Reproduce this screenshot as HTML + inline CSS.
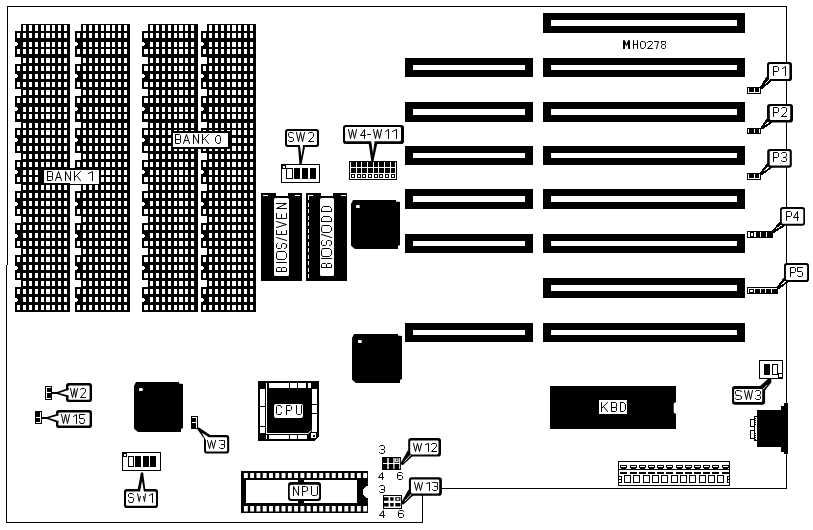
<!DOCTYPE html>
<html><head><meta charset="utf-8"><title>MH0278</title>
<style>html,body{margin:0;padding:0;background:#fff;overflow:hidden}svg{display:block}</style>
</head><body>
<svg width="813" height="530" viewBox="0 0 813 530" shape-rendering="crispEdges" font-family="Liberation Sans, sans-serif">
<rect width="813" height="530" fill="#fff"/>
<path fill="#000" d="M7 6h780v1h-780zM7 6h1v259h-1zM6 265h1v258h-1zM786 6h1v483h-1zM422 488h365v1h-365zM422 488h1v35h-1zM6 522h417v1h-417zM21 24h49v288h-49zM15 31h6v26h-6zM15 64h6v25h-6zM15 96h6v26h-6zM15 128h6v25h-6zM15 160h6v24h-6zM15 191h6v25h-6zM15 223h6v25h-6zM15 255h6v25h-6zM15 287h6v25h-6z"/>
<path fill="#fff" d="M23 25h3v6h-3zM29 25h3v6h-3zM35 25h3v6h-3zM41 25h3v6h-3zM46 25h4v6h-4zM52 25h3v6h-3zM58 25h3v6h-3zM64 25h3v6h-3zM17 33h3v5h-3zM23 33h3v5h-3zM29 33h3v5h-3zM35 33h3v5h-3zM41 33h3v5h-3zM46 33h4v5h-4zM52 33h3v5h-3zM58 33h3v5h-3zM64 33h3v5h-3zM23 42h3v5h-3zM29 42h3v5h-3zM35 42h3v5h-3zM41 42h3v5h-3zM46 42h4v5h-4zM52 42h3v5h-3zM58 42h3v5h-3zM64 42h3v5h-3zM15 42h2v4h-2zM17 43h1v2h-1zM17 49h3v5h-3zM23 49h3v5h-3zM29 49h3v5h-3zM35 49h3v5h-3zM41 49h3v5h-3zM46 49h4v5h-4zM52 49h3v5h-3zM58 49h3v5h-3zM64 49h3v5h-3zM23 58h3v5h-3zM29 58h3v5h-3zM35 58h3v5h-3zM41 58h3v5h-3zM46 58h4v5h-4zM52 58h3v5h-3zM58 58h3v5h-3zM64 58h3v5h-3zM17 66h3v5h-3zM23 66h3v5h-3zM29 66h3v5h-3zM35 66h3v5h-3zM41 66h3v5h-3zM46 66h4v5h-4zM52 66h3v5h-3zM58 66h3v5h-3zM64 66h3v5h-3zM23 74h3v5h-3zM29 74h3v5h-3zM35 74h3v5h-3zM41 74h3v5h-3zM46 74h4v5h-4zM52 74h3v5h-3zM58 74h3v5h-3zM64 74h3v5h-3zM15 74h2v4h-2zM17 75h1v2h-1zM17 82h3v5h-3zM23 82h3v5h-3zM29 82h3v5h-3zM35 82h3v5h-3zM41 82h3v5h-3zM46 82h4v5h-4zM52 82h3v5h-3zM58 82h3v5h-3zM64 82h3v5h-3zM23 90h3v5h-3zM29 90h3v5h-3zM35 90h3v5h-3zM41 90h3v5h-3zM46 90h4v5h-4zM52 90h3v5h-3zM58 90h3v5h-3zM64 90h3v5h-3zM17 98h3v5h-3zM23 98h3v5h-3zM29 98h3v5h-3zM35 98h3v5h-3zM41 98h3v5h-3zM46 98h4v5h-4zM52 98h3v5h-3zM58 98h3v5h-3zM64 98h3v5h-3zM23 107h3v5h-3zM29 107h3v5h-3zM35 107h3v5h-3zM41 107h3v5h-3zM46 107h4v5h-4zM52 107h3v5h-3zM58 107h3v5h-3zM64 107h3v5h-3zM15 107h2v4h-2zM17 108h1v2h-1zM17 114h3v5h-3zM23 114h3v5h-3zM29 114h3v5h-3zM35 114h3v5h-3zM41 114h3v5h-3zM46 114h4v5h-4zM52 114h3v5h-3zM58 114h3v5h-3zM64 114h3v5h-3zM23 123h3v5h-3zM29 123h3v5h-3zM35 123h3v5h-3zM41 123h3v5h-3zM46 123h4v5h-4zM52 123h3v5h-3zM58 123h3v5h-3zM64 123h3v5h-3zM17 130h3v5h-3zM23 130h3v5h-3zM29 130h3v5h-3zM35 130h3v5h-3zM41 130h3v5h-3zM46 130h4v5h-4zM52 130h3v5h-3zM58 130h3v5h-3zM64 130h3v5h-3zM23 138h3v5h-3zM29 138h3v5h-3zM35 138h3v5h-3zM41 138h3v5h-3zM46 138h4v5h-4zM52 138h3v5h-3zM58 138h3v5h-3zM64 138h3v5h-3zM15 138h2v4h-2zM17 139h1v2h-1zM17 146h3v5h-3zM23 146h3v5h-3zM29 146h3v5h-3zM35 146h3v5h-3zM41 146h3v5h-3zM46 146h4v5h-4zM52 146h3v5h-3zM58 146h3v5h-3zM64 146h3v5h-3zM23 154h3v5h-3zM29 154h3v5h-3zM35 154h3v5h-3zM41 154h3v5h-3zM46 154h4v5h-4zM52 154h3v5h-3zM58 154h3v5h-3zM64 154h3v5h-3zM17 162h3v5h-3zM23 162h3v5h-3zM29 162h3v5h-3zM35 162h3v5h-3zM41 162h3v5h-3zM46 162h4v5h-4zM52 162h3v5h-3zM58 162h3v5h-3zM64 162h3v5h-3zM23 170h3v5h-3zM29 170h3v5h-3zM35 170h3v5h-3zM41 170h3v5h-3zM46 170h4v5h-4zM52 170h3v5h-3zM58 170h3v5h-3zM64 170h3v5h-3zM15 170h2v4h-2zM17 171h1v2h-1zM17 177h3v5h-3zM23 177h3v5h-3zM29 177h3v5h-3zM35 177h3v5h-3zM41 177h3v5h-3zM46 177h4v5h-4zM52 177h3v5h-3zM58 177h3v5h-3zM64 177h3v5h-3zM23 185h3v5h-3zM29 185h3v5h-3zM35 185h3v5h-3zM41 185h3v5h-3zM46 185h4v5h-4zM52 185h3v5h-3zM58 185h3v5h-3zM64 185h3v5h-3zM17 193h3v5h-3zM23 193h3v5h-3zM29 193h3v5h-3zM35 193h3v5h-3zM41 193h3v5h-3zM46 193h4v5h-4zM52 193h3v5h-3zM58 193h3v5h-3zM64 193h3v5h-3zM23 201h3v5h-3zM29 201h3v5h-3zM35 201h3v5h-3zM41 201h3v5h-3zM46 201h4v5h-4zM52 201h3v5h-3zM58 201h3v5h-3zM64 201h3v5h-3zM15 202h2v4h-2zM17 203h1v2h-1zM17 209h3v5h-3zM23 209h3v5h-3zM29 209h3v5h-3zM35 209h3v5h-3zM41 209h3v5h-3zM46 209h4v5h-4zM52 209h3v5h-3zM58 209h3v5h-3zM64 209h3v5h-3zM23 217h3v5h-3zM29 217h3v5h-3zM35 217h3v5h-3zM41 217h3v5h-3zM46 217h4v5h-4zM52 217h3v5h-3zM58 217h3v5h-3zM64 217h3v5h-3zM17 225h3v5h-3zM23 225h3v5h-3zM29 225h3v5h-3zM35 225h3v5h-3zM41 225h3v5h-3zM46 225h4v5h-4zM52 225h3v5h-3zM58 225h3v5h-3zM64 225h3v5h-3zM23 233h3v5h-3zM29 233h3v5h-3zM35 233h3v5h-3zM41 233h3v5h-3zM46 233h4v5h-4zM52 233h3v5h-3zM58 233h3v5h-3zM64 233h3v5h-3zM15 234h2v4h-2zM17 235h1v2h-1zM17 241h3v5h-3zM23 241h3v5h-3zM29 241h3v5h-3zM35 241h3v5h-3zM41 241h3v5h-3zM46 241h4v5h-4zM52 241h3v5h-3zM58 241h3v5h-3zM64 241h3v5h-3zM23 249h3v5h-3zM29 249h3v5h-3zM35 249h3v5h-3zM41 249h3v5h-3zM46 249h4v5h-4zM52 249h3v5h-3zM58 249h3v5h-3zM64 249h3v5h-3zM17 257h3v5h-3zM23 257h3v5h-3zM29 257h3v5h-3zM35 257h3v5h-3zM41 257h3v5h-3zM46 257h4v5h-4zM52 257h3v5h-3zM58 257h3v5h-3zM64 257h3v5h-3zM23 265h3v5h-3zM29 265h3v5h-3zM35 265h3v5h-3zM41 265h3v5h-3zM46 265h4v5h-4zM52 265h3v5h-3zM58 265h3v5h-3zM64 265h3v5h-3zM15 266h2v4h-2zM17 267h1v2h-1zM17 273h3v5h-3zM23 273h3v5h-3zM29 273h3v5h-3zM35 273h3v5h-3zM41 273h3v5h-3zM46 273h4v5h-4zM52 273h3v5h-3zM58 273h3v5h-3zM64 273h3v5h-3zM23 281h3v5h-3zM29 281h3v5h-3zM35 281h3v5h-3zM41 281h3v5h-3zM46 281h4v5h-4zM52 281h3v5h-3zM58 281h3v5h-3zM64 281h3v5h-3zM17 289h3v5h-3zM23 289h3v5h-3zM29 289h3v5h-3zM35 289h3v5h-3zM41 289h3v5h-3zM46 289h4v5h-4zM52 289h3v5h-3zM58 289h3v5h-3zM64 289h3v5h-3zM23 297h3v5h-3zM29 297h3v5h-3zM35 297h3v5h-3zM41 297h3v5h-3zM46 297h4v5h-4zM52 297h3v5h-3zM58 297h3v5h-3zM64 297h3v5h-3zM15 298h2v4h-2zM17 299h1v2h-1zM17 305h3v5h-3zM23 305h3v5h-3zM29 305h3v5h-3zM35 305h3v5h-3zM41 305h3v5h-3zM46 305h4v5h-4zM52 305h3v5h-3zM58 305h3v5h-3zM64 305h3v5h-3z"/>
<path fill="#000" d="M81 24h49v288h-49zM75 31h6v26h-6zM75 64h6v25h-6zM75 96h6v26h-6zM75 128h6v25h-6zM75 160h6v24h-6zM75 191h6v25h-6zM75 223h6v25h-6zM75 255h6v25h-6zM75 287h6v25h-6z"/>
<path fill="#fff" d="M83 25h3v6h-3zM89 25h3v6h-3zM95 25h3v6h-3zM101 25h3v6h-3zM106 25h4v6h-4zM112 25h3v6h-3zM118 25h3v6h-3zM124 25h3v6h-3zM77 33h3v5h-3zM83 33h3v5h-3zM89 33h3v5h-3zM95 33h3v5h-3zM101 33h3v5h-3zM106 33h4v5h-4zM112 33h3v5h-3zM118 33h3v5h-3zM124 33h3v5h-3zM83 42h3v5h-3zM89 42h3v5h-3zM95 42h3v5h-3zM101 42h3v5h-3zM106 42h4v5h-4zM112 42h3v5h-3zM118 42h3v5h-3zM124 42h3v5h-3zM75 42h2v4h-2zM77 43h1v2h-1zM77 49h3v5h-3zM83 49h3v5h-3zM89 49h3v5h-3zM95 49h3v5h-3zM101 49h3v5h-3zM106 49h4v5h-4zM112 49h3v5h-3zM118 49h3v5h-3zM124 49h3v5h-3zM83 58h3v5h-3zM89 58h3v5h-3zM95 58h3v5h-3zM101 58h3v5h-3zM106 58h4v5h-4zM112 58h3v5h-3zM118 58h3v5h-3zM124 58h3v5h-3zM77 66h3v5h-3zM83 66h3v5h-3zM89 66h3v5h-3zM95 66h3v5h-3zM101 66h3v5h-3zM106 66h4v5h-4zM112 66h3v5h-3zM118 66h3v5h-3zM124 66h3v5h-3zM83 74h3v5h-3zM89 74h3v5h-3zM95 74h3v5h-3zM101 74h3v5h-3zM106 74h4v5h-4zM112 74h3v5h-3zM118 74h3v5h-3zM124 74h3v5h-3zM75 74h2v4h-2zM77 75h1v2h-1zM77 82h3v5h-3zM83 82h3v5h-3zM89 82h3v5h-3zM95 82h3v5h-3zM101 82h3v5h-3zM106 82h4v5h-4zM112 82h3v5h-3zM118 82h3v5h-3zM124 82h3v5h-3zM83 90h3v5h-3zM89 90h3v5h-3zM95 90h3v5h-3zM101 90h3v5h-3zM106 90h4v5h-4zM112 90h3v5h-3zM118 90h3v5h-3zM124 90h3v5h-3zM77 98h3v5h-3zM83 98h3v5h-3zM89 98h3v5h-3zM95 98h3v5h-3zM101 98h3v5h-3zM106 98h4v5h-4zM112 98h3v5h-3zM118 98h3v5h-3zM124 98h3v5h-3zM83 107h3v5h-3zM89 107h3v5h-3zM95 107h3v5h-3zM101 107h3v5h-3zM106 107h4v5h-4zM112 107h3v5h-3zM118 107h3v5h-3zM124 107h3v5h-3zM75 107h2v4h-2zM77 108h1v2h-1zM77 114h3v5h-3zM83 114h3v5h-3zM89 114h3v5h-3zM95 114h3v5h-3zM101 114h3v5h-3zM106 114h4v5h-4zM112 114h3v5h-3zM118 114h3v5h-3zM124 114h3v5h-3zM83 123h3v5h-3zM89 123h3v5h-3zM95 123h3v5h-3zM101 123h3v5h-3zM106 123h4v5h-4zM112 123h3v5h-3zM118 123h3v5h-3zM124 123h3v5h-3zM77 130h3v5h-3zM83 130h3v5h-3zM89 130h3v5h-3zM95 130h3v5h-3zM101 130h3v5h-3zM106 130h4v5h-4zM112 130h3v5h-3zM118 130h3v5h-3zM124 130h3v5h-3zM83 138h3v5h-3zM89 138h3v5h-3zM95 138h3v5h-3zM101 138h3v5h-3zM106 138h4v5h-4zM112 138h3v5h-3zM118 138h3v5h-3zM124 138h3v5h-3zM75 138h2v4h-2zM77 139h1v2h-1zM77 146h3v5h-3zM83 146h3v5h-3zM89 146h3v5h-3zM95 146h3v5h-3zM101 146h3v5h-3zM106 146h4v5h-4zM112 146h3v5h-3zM118 146h3v5h-3zM124 146h3v5h-3zM83 154h3v5h-3zM89 154h3v5h-3zM95 154h3v5h-3zM101 154h3v5h-3zM106 154h4v5h-4zM112 154h3v5h-3zM118 154h3v5h-3zM124 154h3v5h-3zM77 162h3v5h-3zM83 162h3v5h-3zM89 162h3v5h-3zM95 162h3v5h-3zM101 162h3v5h-3zM106 162h4v5h-4zM112 162h3v5h-3zM118 162h3v5h-3zM124 162h3v5h-3zM83 170h3v5h-3zM89 170h3v5h-3zM95 170h3v5h-3zM101 170h3v5h-3zM106 170h4v5h-4zM112 170h3v5h-3zM118 170h3v5h-3zM124 170h3v5h-3zM75 170h2v4h-2zM77 171h1v2h-1zM77 177h3v5h-3zM83 177h3v5h-3zM89 177h3v5h-3zM95 177h3v5h-3zM101 177h3v5h-3zM106 177h4v5h-4zM112 177h3v5h-3zM118 177h3v5h-3zM124 177h3v5h-3zM83 185h3v5h-3zM89 185h3v5h-3zM95 185h3v5h-3zM101 185h3v5h-3zM106 185h4v5h-4zM112 185h3v5h-3zM118 185h3v5h-3zM124 185h3v5h-3zM77 193h3v5h-3zM83 193h3v5h-3zM89 193h3v5h-3zM95 193h3v5h-3zM101 193h3v5h-3zM106 193h4v5h-4zM112 193h3v5h-3zM118 193h3v5h-3zM124 193h3v5h-3zM83 201h3v5h-3zM89 201h3v5h-3zM95 201h3v5h-3zM101 201h3v5h-3zM106 201h4v5h-4zM112 201h3v5h-3zM118 201h3v5h-3zM124 201h3v5h-3zM75 202h2v4h-2zM77 203h1v2h-1zM77 209h3v5h-3zM83 209h3v5h-3zM89 209h3v5h-3zM95 209h3v5h-3zM101 209h3v5h-3zM106 209h4v5h-4zM112 209h3v5h-3zM118 209h3v5h-3zM124 209h3v5h-3zM83 217h3v5h-3zM89 217h3v5h-3zM95 217h3v5h-3zM101 217h3v5h-3zM106 217h4v5h-4zM112 217h3v5h-3zM118 217h3v5h-3zM124 217h3v5h-3zM77 225h3v5h-3zM83 225h3v5h-3zM89 225h3v5h-3zM95 225h3v5h-3zM101 225h3v5h-3zM106 225h4v5h-4zM112 225h3v5h-3zM118 225h3v5h-3zM124 225h3v5h-3zM83 233h3v5h-3zM89 233h3v5h-3zM95 233h3v5h-3zM101 233h3v5h-3zM106 233h4v5h-4zM112 233h3v5h-3zM118 233h3v5h-3zM124 233h3v5h-3zM75 234h2v4h-2zM77 235h1v2h-1zM77 241h3v5h-3zM83 241h3v5h-3zM89 241h3v5h-3zM95 241h3v5h-3zM101 241h3v5h-3zM106 241h4v5h-4zM112 241h3v5h-3zM118 241h3v5h-3zM124 241h3v5h-3zM83 249h3v5h-3zM89 249h3v5h-3zM95 249h3v5h-3zM101 249h3v5h-3zM106 249h4v5h-4zM112 249h3v5h-3zM118 249h3v5h-3zM124 249h3v5h-3zM77 257h3v5h-3zM83 257h3v5h-3zM89 257h3v5h-3zM95 257h3v5h-3zM101 257h3v5h-3zM106 257h4v5h-4zM112 257h3v5h-3zM118 257h3v5h-3zM124 257h3v5h-3zM83 265h3v5h-3zM89 265h3v5h-3zM95 265h3v5h-3zM101 265h3v5h-3zM106 265h4v5h-4zM112 265h3v5h-3zM118 265h3v5h-3zM124 265h3v5h-3zM75 266h2v4h-2zM77 267h1v2h-1zM77 273h3v5h-3zM83 273h3v5h-3zM89 273h3v5h-3zM95 273h3v5h-3zM101 273h3v5h-3zM106 273h4v5h-4zM112 273h3v5h-3zM118 273h3v5h-3zM124 273h3v5h-3zM83 281h3v5h-3zM89 281h3v5h-3zM95 281h3v5h-3zM101 281h3v5h-3zM106 281h4v5h-4zM112 281h3v5h-3zM118 281h3v5h-3zM124 281h3v5h-3zM77 289h3v5h-3zM83 289h3v5h-3zM89 289h3v5h-3zM95 289h3v5h-3zM101 289h3v5h-3zM106 289h4v5h-4zM112 289h3v5h-3zM118 289h3v5h-3zM124 289h3v5h-3zM83 297h3v5h-3zM89 297h3v5h-3zM95 297h3v5h-3zM101 297h3v5h-3zM106 297h4v5h-4zM112 297h3v5h-3zM118 297h3v5h-3zM124 297h3v5h-3zM75 298h2v4h-2zM77 299h1v2h-1zM77 305h3v5h-3zM83 305h3v5h-3zM89 305h3v5h-3zM95 305h3v5h-3zM101 305h3v5h-3zM106 305h4v5h-4zM112 305h3v5h-3zM118 305h3v5h-3zM124 305h3v5h-3z"/>
<path fill="#000" d="M148 24h50v288h-50zM142 31h6v26h-6zM142 64h6v25h-6zM142 96h6v26h-6zM142 128h6v25h-6zM142 160h6v24h-6zM142 191h6v25h-6zM142 223h6v25h-6zM142 255h6v25h-6zM142 287h6v25h-6z"/>
<path fill="#fff" d="M150 25h3v6h-3zM156 25h3v6h-3zM162 25h3v6h-3zM168 25h3v6h-3zM174 25h3v6h-3zM179 25h4v6h-4zM185 25h3v6h-3zM191 25h3v6h-3zM144 33h4v5h-4zM150 33h3v5h-3zM156 33h3v5h-3zM162 33h3v5h-3zM168 33h3v5h-3zM174 33h3v5h-3zM179 33h4v5h-4zM185 33h3v5h-3zM191 33h3v5h-3zM150 42h3v5h-3zM156 42h3v5h-3zM162 42h3v5h-3zM168 42h3v5h-3zM174 42h3v5h-3zM179 42h4v5h-4zM185 42h3v5h-3zM191 42h3v5h-3zM142 42h2v4h-2zM144 43h1v2h-1zM144 49h4v5h-4zM150 49h3v5h-3zM156 49h3v5h-3zM162 49h3v5h-3zM168 49h3v5h-3zM174 49h3v5h-3zM179 49h4v5h-4zM185 49h3v5h-3zM191 49h3v5h-3zM150 58h3v5h-3zM156 58h3v5h-3zM162 58h3v5h-3zM168 58h3v5h-3zM174 58h3v5h-3zM179 58h4v5h-4zM185 58h3v5h-3zM191 58h3v5h-3zM144 66h4v5h-4zM150 66h3v5h-3zM156 66h3v5h-3zM162 66h3v5h-3zM168 66h3v5h-3zM174 66h3v5h-3zM179 66h4v5h-4zM185 66h3v5h-3zM191 66h3v5h-3zM150 74h3v5h-3zM156 74h3v5h-3zM162 74h3v5h-3zM168 74h3v5h-3zM174 74h3v5h-3zM179 74h4v5h-4zM185 74h3v5h-3zM191 74h3v5h-3zM142 74h2v4h-2zM144 75h1v2h-1zM144 82h4v5h-4zM150 82h3v5h-3zM156 82h3v5h-3zM162 82h3v5h-3zM168 82h3v5h-3zM174 82h3v5h-3zM179 82h4v5h-4zM185 82h3v5h-3zM191 82h3v5h-3zM150 90h3v5h-3zM156 90h3v5h-3zM162 90h3v5h-3zM168 90h3v5h-3zM174 90h3v5h-3zM179 90h4v5h-4zM185 90h3v5h-3zM191 90h3v5h-3zM144 98h4v5h-4zM150 98h3v5h-3zM156 98h3v5h-3zM162 98h3v5h-3zM168 98h3v5h-3zM174 98h3v5h-3zM179 98h4v5h-4zM185 98h3v5h-3zM191 98h3v5h-3zM150 107h3v5h-3zM156 107h3v5h-3zM162 107h3v5h-3zM168 107h3v5h-3zM174 107h3v5h-3zM179 107h4v5h-4zM185 107h3v5h-3zM191 107h3v5h-3zM142 107h2v4h-2zM144 108h1v2h-1zM144 114h4v5h-4zM150 114h3v5h-3zM156 114h3v5h-3zM162 114h3v5h-3zM168 114h3v5h-3zM174 114h3v5h-3zM179 114h4v5h-4zM185 114h3v5h-3zM191 114h3v5h-3zM150 123h3v5h-3zM156 123h3v5h-3zM162 123h3v5h-3zM168 123h3v5h-3zM174 123h3v5h-3zM179 123h4v5h-4zM185 123h3v5h-3zM191 123h3v5h-3zM144 130h4v5h-4zM150 130h3v5h-3zM156 130h3v5h-3zM162 130h3v5h-3zM168 130h3v5h-3zM174 130h3v5h-3zM179 130h4v5h-4zM185 130h3v5h-3zM191 130h3v5h-3zM150 138h3v5h-3zM156 138h3v5h-3zM162 138h3v5h-3zM168 138h3v5h-3zM174 138h3v5h-3zM179 138h4v5h-4zM185 138h3v5h-3zM191 138h3v5h-3zM142 138h2v4h-2zM144 139h1v2h-1zM144 146h4v5h-4zM150 146h3v5h-3zM156 146h3v5h-3zM162 146h3v5h-3zM168 146h3v5h-3zM174 146h3v5h-3zM179 146h4v5h-4zM185 146h3v5h-3zM191 146h3v5h-3zM150 154h3v5h-3zM156 154h3v5h-3zM162 154h3v5h-3zM168 154h3v5h-3zM174 154h3v5h-3zM179 154h4v5h-4zM185 154h3v5h-3zM191 154h3v5h-3zM144 162h4v5h-4zM150 162h3v5h-3zM156 162h3v5h-3zM162 162h3v5h-3zM168 162h3v5h-3zM174 162h3v5h-3zM179 162h4v5h-4zM185 162h3v5h-3zM191 162h3v5h-3zM150 170h3v5h-3zM156 170h3v5h-3zM162 170h3v5h-3zM168 170h3v5h-3zM174 170h3v5h-3zM179 170h4v5h-4zM185 170h3v5h-3zM191 170h3v5h-3zM142 170h2v4h-2zM144 171h1v2h-1zM144 177h4v5h-4zM150 177h3v5h-3zM156 177h3v5h-3zM162 177h3v5h-3zM168 177h3v5h-3zM174 177h3v5h-3zM179 177h4v5h-4zM185 177h3v5h-3zM191 177h3v5h-3zM150 185h3v5h-3zM156 185h3v5h-3zM162 185h3v5h-3zM168 185h3v5h-3zM174 185h3v5h-3zM179 185h4v5h-4zM185 185h3v5h-3zM191 185h3v5h-3zM144 193h4v5h-4zM150 193h3v5h-3zM156 193h3v5h-3zM162 193h3v5h-3zM168 193h3v5h-3zM174 193h3v5h-3zM179 193h4v5h-4zM185 193h3v5h-3zM191 193h3v5h-3zM150 201h3v5h-3zM156 201h3v5h-3zM162 201h3v5h-3zM168 201h3v5h-3zM174 201h3v5h-3zM179 201h4v5h-4zM185 201h3v5h-3zM191 201h3v5h-3zM142 202h2v4h-2zM144 203h1v2h-1zM144 209h4v5h-4zM150 209h3v5h-3zM156 209h3v5h-3zM162 209h3v5h-3zM168 209h3v5h-3zM174 209h3v5h-3zM179 209h4v5h-4zM185 209h3v5h-3zM191 209h3v5h-3zM150 217h3v5h-3zM156 217h3v5h-3zM162 217h3v5h-3zM168 217h3v5h-3zM174 217h3v5h-3zM179 217h4v5h-4zM185 217h3v5h-3zM191 217h3v5h-3zM144 225h4v5h-4zM150 225h3v5h-3zM156 225h3v5h-3zM162 225h3v5h-3zM168 225h3v5h-3zM174 225h3v5h-3zM179 225h4v5h-4zM185 225h3v5h-3zM191 225h3v5h-3zM150 233h3v5h-3zM156 233h3v5h-3zM162 233h3v5h-3zM168 233h3v5h-3zM174 233h3v5h-3zM179 233h4v5h-4zM185 233h3v5h-3zM191 233h3v5h-3zM142 234h2v4h-2zM144 235h1v2h-1zM144 241h4v5h-4zM150 241h3v5h-3zM156 241h3v5h-3zM162 241h3v5h-3zM168 241h3v5h-3zM174 241h3v5h-3zM179 241h4v5h-4zM185 241h3v5h-3zM191 241h3v5h-3zM150 249h3v5h-3zM156 249h3v5h-3zM162 249h3v5h-3zM168 249h3v5h-3zM174 249h3v5h-3zM179 249h4v5h-4zM185 249h3v5h-3zM191 249h3v5h-3zM144 257h4v5h-4zM150 257h3v5h-3zM156 257h3v5h-3zM162 257h3v5h-3zM168 257h3v5h-3zM174 257h3v5h-3zM179 257h4v5h-4zM185 257h3v5h-3zM191 257h3v5h-3zM150 265h3v5h-3zM156 265h3v5h-3zM162 265h3v5h-3zM168 265h3v5h-3zM174 265h3v5h-3zM179 265h4v5h-4zM185 265h3v5h-3zM191 265h3v5h-3zM142 266h2v4h-2zM144 267h1v2h-1zM144 273h4v5h-4zM150 273h3v5h-3zM156 273h3v5h-3zM162 273h3v5h-3zM168 273h3v5h-3zM174 273h3v5h-3zM179 273h4v5h-4zM185 273h3v5h-3zM191 273h3v5h-3zM150 281h3v5h-3zM156 281h3v5h-3zM162 281h3v5h-3zM168 281h3v5h-3zM174 281h3v5h-3zM179 281h4v5h-4zM185 281h3v5h-3zM191 281h3v5h-3zM144 289h4v5h-4zM150 289h3v5h-3zM156 289h3v5h-3zM162 289h3v5h-3zM168 289h3v5h-3zM174 289h3v5h-3zM179 289h4v5h-4zM185 289h3v5h-3zM191 289h3v5h-3zM150 297h3v5h-3zM156 297h3v5h-3zM162 297h3v5h-3zM168 297h3v5h-3zM174 297h3v5h-3zM179 297h4v5h-4zM185 297h3v5h-3zM191 297h3v5h-3zM142 298h2v4h-2zM144 299h1v2h-1zM144 305h4v5h-4zM150 305h3v5h-3zM156 305h3v5h-3zM162 305h3v5h-3zM168 305h3v5h-3zM174 305h3v5h-3zM179 305h4v5h-4zM185 305h3v5h-3zM191 305h3v5h-3z"/>
<path fill="#000" d="M207 24h49v288h-49zM201 31h6v26h-6zM201 64h6v25h-6zM201 96h6v26h-6zM201 128h6v25h-6zM201 160h6v24h-6zM201 191h6v25h-6zM201 223h6v25h-6zM201 255h6v25h-6zM201 287h6v25h-6z"/>
<path fill="#fff" d="M209 25h3v6h-3zM215 25h3v6h-3zM221 25h3v6h-3zM227 25h3v6h-3zM232 25h4v6h-4zM238 25h3v6h-3zM244 25h3v6h-3zM250 25h3v6h-3zM203 33h3v5h-3zM209 33h3v5h-3zM215 33h3v5h-3zM221 33h3v5h-3zM227 33h3v5h-3zM232 33h4v5h-4zM238 33h3v5h-3zM244 33h3v5h-3zM250 33h3v5h-3zM209 42h3v5h-3zM215 42h3v5h-3zM221 42h3v5h-3zM227 42h3v5h-3zM232 42h4v5h-4zM238 42h3v5h-3zM244 42h3v5h-3zM250 42h3v5h-3zM201 42h2v4h-2zM203 43h1v2h-1zM203 49h3v5h-3zM209 49h3v5h-3zM215 49h3v5h-3zM221 49h3v5h-3zM227 49h3v5h-3zM232 49h4v5h-4zM238 49h3v5h-3zM244 49h3v5h-3zM250 49h3v5h-3zM209 58h3v5h-3zM215 58h3v5h-3zM221 58h3v5h-3zM227 58h3v5h-3zM232 58h4v5h-4zM238 58h3v5h-3zM244 58h3v5h-3zM250 58h3v5h-3zM203 66h3v5h-3zM209 66h3v5h-3zM215 66h3v5h-3zM221 66h3v5h-3zM227 66h3v5h-3zM232 66h4v5h-4zM238 66h3v5h-3zM244 66h3v5h-3zM250 66h3v5h-3zM209 74h3v5h-3zM215 74h3v5h-3zM221 74h3v5h-3zM227 74h3v5h-3zM232 74h4v5h-4zM238 74h3v5h-3zM244 74h3v5h-3zM250 74h3v5h-3zM201 74h2v4h-2zM203 75h1v2h-1zM203 82h3v5h-3zM209 82h3v5h-3zM215 82h3v5h-3zM221 82h3v5h-3zM227 82h3v5h-3zM232 82h4v5h-4zM238 82h3v5h-3zM244 82h3v5h-3zM250 82h3v5h-3zM209 90h3v5h-3zM215 90h3v5h-3zM221 90h3v5h-3zM227 90h3v5h-3zM232 90h4v5h-4zM238 90h3v5h-3zM244 90h3v5h-3zM250 90h3v5h-3zM203 98h3v5h-3zM209 98h3v5h-3zM215 98h3v5h-3zM221 98h3v5h-3zM227 98h3v5h-3zM232 98h4v5h-4zM238 98h3v5h-3zM244 98h3v5h-3zM250 98h3v5h-3zM209 107h3v5h-3zM215 107h3v5h-3zM221 107h3v5h-3zM227 107h3v5h-3zM232 107h4v5h-4zM238 107h3v5h-3zM244 107h3v5h-3zM250 107h3v5h-3zM201 107h2v4h-2zM203 108h1v2h-1zM203 114h3v5h-3zM209 114h3v5h-3zM215 114h3v5h-3zM221 114h3v5h-3zM227 114h3v5h-3zM232 114h4v5h-4zM238 114h3v5h-3zM244 114h3v5h-3zM250 114h3v5h-3zM209 123h3v5h-3zM215 123h3v5h-3zM221 123h3v5h-3zM227 123h3v5h-3zM232 123h4v5h-4zM238 123h3v5h-3zM244 123h3v5h-3zM250 123h3v5h-3zM203 130h3v5h-3zM209 130h3v5h-3zM215 130h3v5h-3zM221 130h3v5h-3zM227 130h3v5h-3zM232 130h4v5h-4zM238 130h3v5h-3zM244 130h3v5h-3zM250 130h3v5h-3zM209 138h3v5h-3zM215 138h3v5h-3zM221 138h3v5h-3zM227 138h3v5h-3zM232 138h4v5h-4zM238 138h3v5h-3zM244 138h3v5h-3zM250 138h3v5h-3zM201 138h2v4h-2zM203 139h1v2h-1zM203 146h3v5h-3zM209 146h3v5h-3zM215 146h3v5h-3zM221 146h3v5h-3zM227 146h3v5h-3zM232 146h4v5h-4zM238 146h3v5h-3zM244 146h3v5h-3zM250 146h3v5h-3zM209 154h3v5h-3zM215 154h3v5h-3zM221 154h3v5h-3zM227 154h3v5h-3zM232 154h4v5h-4zM238 154h3v5h-3zM244 154h3v5h-3zM250 154h3v5h-3zM203 162h3v5h-3zM209 162h3v5h-3zM215 162h3v5h-3zM221 162h3v5h-3zM227 162h3v5h-3zM232 162h4v5h-4zM238 162h3v5h-3zM244 162h3v5h-3zM250 162h3v5h-3zM209 170h3v5h-3zM215 170h3v5h-3zM221 170h3v5h-3zM227 170h3v5h-3zM232 170h4v5h-4zM238 170h3v5h-3zM244 170h3v5h-3zM250 170h3v5h-3zM201 170h2v4h-2zM203 171h1v2h-1zM203 177h3v5h-3zM209 177h3v5h-3zM215 177h3v5h-3zM221 177h3v5h-3zM227 177h3v5h-3zM232 177h4v5h-4zM238 177h3v5h-3zM244 177h3v5h-3zM250 177h3v5h-3zM209 185h3v5h-3zM215 185h3v5h-3zM221 185h3v5h-3zM227 185h3v5h-3zM232 185h4v5h-4zM238 185h3v5h-3zM244 185h3v5h-3zM250 185h3v5h-3zM203 193h3v5h-3zM209 193h3v5h-3zM215 193h3v5h-3zM221 193h3v5h-3zM227 193h3v5h-3zM232 193h4v5h-4zM238 193h3v5h-3zM244 193h3v5h-3zM250 193h3v5h-3zM209 201h3v5h-3zM215 201h3v5h-3zM221 201h3v5h-3zM227 201h3v5h-3zM232 201h4v5h-4zM238 201h3v5h-3zM244 201h3v5h-3zM250 201h3v5h-3zM201 202h2v4h-2zM203 203h1v2h-1zM203 209h3v5h-3zM209 209h3v5h-3zM215 209h3v5h-3zM221 209h3v5h-3zM227 209h3v5h-3zM232 209h4v5h-4zM238 209h3v5h-3zM244 209h3v5h-3zM250 209h3v5h-3zM209 217h3v5h-3zM215 217h3v5h-3zM221 217h3v5h-3zM227 217h3v5h-3zM232 217h4v5h-4zM238 217h3v5h-3zM244 217h3v5h-3zM250 217h3v5h-3zM203 225h3v5h-3zM209 225h3v5h-3zM215 225h3v5h-3zM221 225h3v5h-3zM227 225h3v5h-3zM232 225h4v5h-4zM238 225h3v5h-3zM244 225h3v5h-3zM250 225h3v5h-3zM209 233h3v5h-3zM215 233h3v5h-3zM221 233h3v5h-3zM227 233h3v5h-3zM232 233h4v5h-4zM238 233h3v5h-3zM244 233h3v5h-3zM250 233h3v5h-3zM201 234h2v4h-2zM203 235h1v2h-1zM203 241h3v5h-3zM209 241h3v5h-3zM215 241h3v5h-3zM221 241h3v5h-3zM227 241h3v5h-3zM232 241h4v5h-4zM238 241h3v5h-3zM244 241h3v5h-3zM250 241h3v5h-3zM209 249h3v5h-3zM215 249h3v5h-3zM221 249h3v5h-3zM227 249h3v5h-3zM232 249h4v5h-4zM238 249h3v5h-3zM244 249h3v5h-3zM250 249h3v5h-3zM203 257h3v5h-3zM209 257h3v5h-3zM215 257h3v5h-3zM221 257h3v5h-3zM227 257h3v5h-3zM232 257h4v5h-4zM238 257h3v5h-3zM244 257h3v5h-3zM250 257h3v5h-3zM209 265h3v5h-3zM215 265h3v5h-3zM221 265h3v5h-3zM227 265h3v5h-3zM232 265h4v5h-4zM238 265h3v5h-3zM244 265h3v5h-3zM250 265h3v5h-3zM201 266h2v4h-2zM203 267h1v2h-1zM203 273h3v5h-3zM209 273h3v5h-3zM215 273h3v5h-3zM221 273h3v5h-3zM227 273h3v5h-3zM232 273h4v5h-4zM238 273h3v5h-3zM244 273h3v5h-3zM250 273h3v5h-3zM209 281h3v5h-3zM215 281h3v5h-3zM221 281h3v5h-3zM227 281h3v5h-3zM232 281h4v5h-4zM238 281h3v5h-3zM244 281h3v5h-3zM250 281h3v5h-3zM203 289h3v5h-3zM209 289h3v5h-3zM215 289h3v5h-3zM221 289h3v5h-3zM227 289h3v5h-3zM232 289h4v5h-4zM238 289h3v5h-3zM244 289h3v5h-3zM250 289h3v5h-3zM209 297h3v5h-3zM215 297h3v5h-3zM221 297h3v5h-3zM227 297h3v5h-3zM232 297h4v5h-4zM238 297h3v5h-3zM244 297h3v5h-3zM250 297h3v5h-3zM201 298h2v4h-2zM203 299h1v2h-1zM203 305h3v5h-3zM209 305h3v5h-3zM215 305h3v5h-3zM221 305h3v5h-3zM227 305h3v5h-3zM232 305h4v5h-4zM238 305h3v5h-3zM244 305h3v5h-3zM250 305h3v5h-3z"/>
<rect x="171" y="131" width="60" height="18" rx="2" fill="#000" shape-rendering="geometricPrecision"/>
<path fill="#fff" d="M173 133h55v14h-55z"/>
<polyline points="175.5,134.5 175.5,143.5 179.5,143.5 180.5,142.5 180.5,139.5 179.5,139.5 175.5,139.5" fill="none" stroke="#000" stroke-width="1" stroke-linecap="round" stroke-linejoin="round" shape-rendering="geometricPrecision"/>
<polyline points="179.5,139.5 180.5,138.5 180.5,135.5 179.5,134.5 175.5,134.5" fill="none" stroke="#000" stroke-width="1" stroke-linecap="round" stroke-linejoin="round" shape-rendering="geometricPrecision"/>
<polyline points="183.5,143.5 186.5,134.5 189.5,143.5" fill="none" stroke="#000" stroke-width="1" stroke-linecap="round" stroke-linejoin="round" shape-rendering="geometricPrecision"/>
<polyline points="184.5,140.5 188.5,140.5" fill="none" stroke="#000" stroke-width="1" stroke-linecap="round" stroke-linejoin="round" shape-rendering="geometricPrecision"/>
<polyline points="193.5,143.5 193.5,134.5 198.5,143.5 198.5,134.5" fill="none" stroke="#000" stroke-width="1" stroke-linecap="round" stroke-linejoin="round" shape-rendering="geometricPrecision"/>
<polyline points="202.5,134.5 202.5,143.5" fill="none" stroke="#000" stroke-width="1" stroke-linecap="round" stroke-linejoin="round" shape-rendering="geometricPrecision"/>
<polyline points="208.5,134.5 202.5,140.5" fill="none" stroke="#000" stroke-width="1" stroke-linecap="round" stroke-linejoin="round" shape-rendering="geometricPrecision"/>
<polyline points="204.5,138.5 208.5,143.5" fill="none" stroke="#000" stroke-width="1" stroke-linecap="round" stroke-linejoin="round" shape-rendering="geometricPrecision"/>
<polyline points="217.5,135.5 219.5,135.5 220.5,137.5 220.5,141.5 219.5,143.5 217.5,143.5 215.5,141.5 215.5,137.5 217.5,135.5" fill="none" stroke="#000" stroke-width="1" stroke-linecap="round" stroke-linejoin="round" shape-rendering="geometricPrecision"/>
<path fill="#000" d="M38 168h63v17h-63z"/>
<path fill="#fff" d="M44 170h55v13h-55zM70 183h29v1h-29z"/>
<polyline points="47.5,171.5 47.5,180.5 51.5,180.5 52.5,179.5 52.5,176.5 51.5,176.5 47.5,176.5" fill="none" stroke="#000" stroke-width="1" stroke-linecap="round" stroke-linejoin="round" shape-rendering="geometricPrecision"/>
<polyline points="51.5,176.5 52.5,175.5 52.5,172.5 51.5,171.5 47.5,171.5" fill="none" stroke="#000" stroke-width="1" stroke-linecap="round" stroke-linejoin="round" shape-rendering="geometricPrecision"/>
<polyline points="55.5,180.5 58.5,171.5 61.5,180.5" fill="none" stroke="#000" stroke-width="1" stroke-linecap="round" stroke-linejoin="round" shape-rendering="geometricPrecision"/>
<polyline points="56.5,177.5 60.5,177.5" fill="none" stroke="#000" stroke-width="1" stroke-linecap="round" stroke-linejoin="round" shape-rendering="geometricPrecision"/>
<polyline points="65.5,180.5 65.5,171.5 70.5,180.5 70.5,171.5" fill="none" stroke="#000" stroke-width="1" stroke-linecap="round" stroke-linejoin="round" shape-rendering="geometricPrecision"/>
<polyline points="74.5,171.5 74.5,180.5" fill="none" stroke="#000" stroke-width="1" stroke-linecap="round" stroke-linejoin="round" shape-rendering="geometricPrecision"/>
<polyline points="80.5,171.5 74.5,177.5" fill="none" stroke="#000" stroke-width="1" stroke-linecap="round" stroke-linejoin="round" shape-rendering="geometricPrecision"/>
<polyline points="76.5,175.5 80.5,180.5" fill="none" stroke="#000" stroke-width="1" stroke-linecap="round" stroke-linejoin="round" shape-rendering="geometricPrecision"/>
<polyline points="88.5,173.5 92.5,171.5 92.5,180.5" fill="none" stroke="#000" stroke-width="1" stroke-linecap="round" stroke-linejoin="round" shape-rendering="geometricPrecision"/>
<path fill="#000" d="M543 13h202v20h-202z"/>
<path fill="#fff" d="M551 20h186v6h-186z"/>
<path fill="#000" d="M543 58h202v19h-202z"/>
<path fill="#fff" d="M551 65h186v5h-186z"/>
<path fill="#000" d="M405 58h128v19h-128z"/>
<path fill="#fff" d="M413 65h112v5h-112z"/>
<path fill="#000" d="M543 102h202v20h-202z"/>
<path fill="#fff" d="M551 109h186v6h-186z"/>
<path fill="#000" d="M405 102h128v20h-128z"/>
<path fill="#fff" d="M413 109h112v6h-112z"/>
<path fill="#000" d="M543 146h202v19h-202z"/>
<path fill="#fff" d="M551 153h186v5h-186z"/>
<path fill="#000" d="M405 146h128v19h-128z"/>
<path fill="#fff" d="M413 153h112v5h-112z"/>
<path fill="#000" d="M543 189h202v20h-202z"/>
<path fill="#fff" d="M551 196h186v6h-186z"/>
<path fill="#000" d="M405 189h128v20h-128z"/>
<path fill="#fff" d="M413 196h112v6h-112z"/>
<path fill="#000" d="M543 234h202v19h-202z"/>
<path fill="#fff" d="M551 241h186v5h-186z"/>
<path fill="#000" d="M405 234h128v19h-128z"/>
<path fill="#fff" d="M413 241h112v5h-112z"/>
<path fill="#000" d="M543 278h202v20h-202z"/>
<path fill="#fff" d="M551 285h186v6h-186z"/>
<path fill="#000" d="M543 323h202v19h-202z"/>
<path fill="#fff" d="M551 330h186v5h-186z"/>
<path fill="#000" d="M405 323h128v19h-128z"/>
<path fill="#fff" d="M413 330h112v5h-112z"/>
<polyline points="623.5,48.5 623.5,40.5 626.5,45.5 629.5,40.5 629.5,48.5" fill="none" stroke="#000" stroke-width="1" stroke-linecap="round" stroke-linejoin="round" shape-rendering="geometricPrecision"/>
<polyline points="624.5,48.5 624.5,40.5 626.5,45.5 628.5,40.5 628.5,48.5" fill="none" stroke="#000" stroke-width="1" stroke-linecap="round" stroke-linejoin="round" shape-rendering="geometricPrecision"/>
<polyline points="633.5,40.5 633.5,48.5" fill="none" stroke="#000" stroke-width="1" stroke-linecap="round" stroke-linejoin="round" shape-rendering="geometricPrecision"/>
<polyline points="637.5,40.5 637.5,48.5" fill="none" stroke="#000" stroke-width="1" stroke-linecap="round" stroke-linejoin="round" shape-rendering="geometricPrecision"/>
<polyline points="633.5,44.5 637.5,44.5" fill="none" stroke="#000" stroke-width="1" stroke-linecap="round" stroke-linejoin="round" shape-rendering="geometricPrecision"/>
<polyline points="641.5,41.5 643.5,41.5 645.5,42.5 645.5,46.5 643.5,48.5 641.5,48.5 640.5,46.5 640.5,42.5 641.5,41.5" fill="none" stroke="#000" stroke-width="1" stroke-linecap="round" stroke-linejoin="round" shape-rendering="geometricPrecision"/>
<polyline points="647.5,42.5 648.5,41.5 651.5,41.5 652.5,42.5 652.5,43.5 647.5,48.5 652.5,48.5" fill="none" stroke="#000" stroke-width="1" stroke-linecap="round" stroke-linejoin="round" shape-rendering="geometricPrecision"/>
<polyline points="654.5,41.5 658.5,41.5 656.5,48.5" fill="none" stroke="#000" stroke-width="1" stroke-linecap="round" stroke-linejoin="round" shape-rendering="geometricPrecision"/>
<polyline points="662.5,41.5 664.5,41.5 665.5,41.5 665.5,43.5 664.5,44.5 662.5,44.5 661.5,43.5 661.5,41.5 662.5,41.5" fill="none" stroke="#000" stroke-width="1" stroke-linecap="round" stroke-linejoin="round" shape-rendering="geometricPrecision"/>
<polyline points="662.5,44.5 661.5,45.5 661.5,47.5 662.5,48.5 664.5,48.5 665.5,47.5 665.5,45.5 664.5,44.5" fill="none" stroke="#000" stroke-width="1" stroke-linecap="round" stroke-linejoin="round" shape-rendering="geometricPrecision"/>
<polygon points="760,87 767,76 770,77 772,81 762,89 760,89" fill="#000" stroke="none" stroke-width="0"/>
<polygon points="761,127 767,118 770,119 772,123 763,129 761,129" fill="#000" stroke="none" stroke-width="0"/>
<polygon points="760,173 767,163 770,164 772,168 762,175 760,175" fill="#000" stroke="none" stroke-width="0"/>
<polygon points="772,231 780,221 783,222 785,226 774,233 772,233" fill="#000" stroke="none" stroke-width="0"/>
<polygon points="777,287 784,277 787,278 789,282 779,289 777,289" fill="#000" stroke="none" stroke-width="0"/>
<rect x="767" y="62" width="25" height="19" rx="2.8" fill="#000" shape-rendering="geometricPrecision"/>
<rect x="769" y="64" width="20.4" height="15" rx="1.3" fill="#fff" shape-rendering="geometricPrecision"/>
<polyline points="773.5,75.5 773.5,66.5 777.5,66.5 778.5,67.5 778.5,70.5 777.5,71.5 773.5,71.5" fill="none" stroke="#000" stroke-width="1" stroke-linecap="round" stroke-linejoin="round" shape-rendering="geometricPrecision"/>
<polyline points="782.5,68.5 785.5,66.5 785.5,75.5" fill="none" stroke="#000" stroke-width="1" stroke-linecap="round" stroke-linejoin="round" shape-rendering="geometricPrecision"/>
<rect x="767" y="104" width="26" height="18.6" rx="2.8" fill="#000" shape-rendering="geometricPrecision"/>
<rect x="769.8" y="106" width="20.4" height="14.1" rx="1.3" fill="#fff" shape-rendering="geometricPrecision"/>
<polyline points="773.5,116.5 773.5,107.5 777.5,107.5 778.5,108.5 778.5,111.5 777.5,112.5 773.5,112.5" fill="none" stroke="#000" stroke-width="1" stroke-linecap="round" stroke-linejoin="round" shape-rendering="geometricPrecision"/>
<polyline points="781.5,108.5 782.5,107.5 785.5,107.5 786.5,108.5 786.5,111.5 781.5,116.5 786.5,116.5" fill="none" stroke="#000" stroke-width="1" stroke-linecap="round" stroke-linejoin="round" shape-rendering="geometricPrecision"/>
<rect x="767.2" y="149" width="24.6" height="18.8" rx="2.8" fill="#000" shape-rendering="geometricPrecision"/>
<rect x="769.7" y="151" width="20" height="14.5" rx="1.3" fill="#fff" shape-rendering="geometricPrecision"/>
<polyline points="773.5,161.5 773.5,152.5 777.5,152.5 778.5,153.5 778.5,156.5 777.5,157.5 773.5,157.5" fill="none" stroke="#000" stroke-width="1" stroke-linecap="round" stroke-linejoin="round" shape-rendering="geometricPrecision"/>
<polyline points="781.5,153.5 782.5,152.5 785.5,152.5 786.5,153.5 786.5,155.5 785.5,157.5 783.5,157.5" fill="none" stroke="#000" stroke-width="1" stroke-linecap="round" stroke-linejoin="round" shape-rendering="geometricPrecision"/>
<polyline points="785.5,157.5 786.5,158.5 786.5,160.5 785.5,161.5 782.5,161.5 781.5,160.5" fill="none" stroke="#000" stroke-width="1" stroke-linecap="round" stroke-linejoin="round" shape-rendering="geometricPrecision"/>
<rect x="780" y="207" width="25" height="18.8" rx="2.8" fill="#000" shape-rendering="geometricPrecision"/>
<rect x="781.8" y="208.9" width="21.5" height="14.9" rx="1.3" fill="#fff" shape-rendering="geometricPrecision"/>
<polyline points="786.5,220.5 786.5,211.5 790.5,211.5 791.5,212.5 791.5,215.5 790.5,216.5 786.5,216.5" fill="none" stroke="#000" stroke-width="1" stroke-linecap="round" stroke-linejoin="round" shape-rendering="geometricPrecision"/>
<polyline points="797.5,220.5 797.5,211.5 793.5,217.5 798.5,217.5" fill="none" stroke="#000" stroke-width="1" stroke-linecap="round" stroke-linejoin="round" shape-rendering="geometricPrecision"/>
<rect x="784" y="263" width="25" height="19" rx="2.8" fill="#000" shape-rendering="geometricPrecision"/>
<rect x="785.9" y="264.9" width="21.2" height="15.1" rx="1.3" fill="#fff" shape-rendering="geometricPrecision"/>
<polyline points="790.5,276.5 790.5,267.5 794.5,267.5 795.5,268.5 795.5,271.5 794.5,272.5 790.5,272.5" fill="none" stroke="#000" stroke-width="1" stroke-linecap="round" stroke-linejoin="round" shape-rendering="geometricPrecision"/>
<polyline points="802.5,267.5 797.5,267.5 797.5,271.5 801.5,271.5 802.5,272.5 802.5,275.5 801.5,276.5 798.5,276.5 797.5,275.5" fill="none" stroke="#000" stroke-width="1" stroke-linecap="round" stroke-linejoin="round" shape-rendering="geometricPrecision"/>
<polyline points="764.5,84.5 769.5,79.5" fill="none" stroke="#fff" stroke-width="1" />
<polyline points="765.5,124.5 769.5,121.5" fill="none" stroke="#fff" stroke-width="1" />
<polyline points="764.5,170.5 769.5,166.5" fill="none" stroke="#fff" stroke-width="1" />
<polyline points="776.5,228.5 782.5,224.5" fill="none" stroke="#fff" stroke-width="1" />
<polyline points="781.5,284.5 786.5,280.5" fill="none" stroke="#fff" stroke-width="1" />
<path fill="#000" d="M747 87h14v7h-14z"/>
<path fill="#fff" d="M748 88h1v5h-1zM754 88h1v4h-1zM759 88h1v5h-1zM748 92h12v1h-12z"/>
<path fill="#000" d="M747 173h14v7h-14z"/>
<path fill="#fff" d="M748 174h1v5h-1zM754 174h1v4h-1zM759 174h1v5h-1zM748 178h12v1h-12z"/>
<path fill="#000" d="M747 128h14v6h-14z"/>
<path fill="#fff" d="M748 129h1v4h-1zM754 129h1v4h-1zM759 129h1v4h-1z"/>
<path fill="#000" d="M747 231h26v7h-26z"/>
<path fill="#fff" d="M748 232h2v5h-2zM751 233h2v3h-2zM754 232h2v5h-2zM760 232h1v5h-1zM766 232h1v5h-1z"/>
<path fill="#000" d="M747 287h31v7h-31z"/>
<path fill="#fff" d="M748 288h29v1h-29zM748 288h1v5h-1zM750 290h3v2h-3zM754 289h1v4h-1zM760 289h1v4h-1zM765 289h1v4h-1zM771 289h1v4h-1z"/>
<rect x="285" y="129" width="34" height="18" rx="2.8" fill="#000" shape-rendering="geometricPrecision"/>
<rect x="287" y="131" width="30" height="14" rx="1.3" fill="#fff" shape-rendering="geometricPrecision"/>
<g shape-rendering="geometricPrecision">
<polygon points="298,146 305.2,146 301.6,164 299.4,164" fill="#000" stroke="none" stroke-width="0"/>
<polygon points="299.8,144 303.2,144 301.5,157" fill="#fff" stroke="none" stroke-width="0"/>
</g>
<polyline points="293.5,133.5 292.5,132.5 289.5,132.5 288.5,133.5 288.5,135.5 289.5,137.5 292.5,137.5 293.5,138.5 293.5,140.5 292.5,141.5 289.5,141.5 288.5,140.5" fill="none" stroke="#000" stroke-width="1" stroke-linecap="round" stroke-linejoin="round" shape-rendering="geometricPrecision"/>
<polyline points="296.5,132.5 298.5,141.5 300.5,132.5 302.5,141.5 304.5,132.5" fill="none" stroke="#000" stroke-width="1" stroke-linecap="round" stroke-linejoin="round" shape-rendering="geometricPrecision"/>
<polyline points="308.5,133.5 309.5,132.5 312.5,132.5 313.5,133.5 313.5,136.5 308.5,141.5 313.5,141.5" fill="none" stroke="#000" stroke-width="1" stroke-linecap="round" stroke-linejoin="round" shape-rendering="geometricPrecision"/>
<path fill="#000" d="M281 164h39v19h-39z"/>
<path fill="#fff" d="M282 165h37v17h-37z"/>
<path fill="#000" d="M282 165h4v4h-4z"/>
<path fill="#fff" d="M283 166h2v2h-2z"/>
<path fill="#000" d="M286 168h7v11h-7z"/>
<path fill="#fff" d="M287 169h5v9h-5z"/>
<path fill="#000" d="M294 168h6v11h-6zM302 168h6v11h-6zM310 168h6v11h-6z"/>
<rect x="343" y="125" width="61" height="19" rx="2.8" fill="#000" shape-rendering="geometricPrecision"/>
<rect x="345" y="127" width="56" height="14.2" rx="1.3" fill="#fff" shape-rendering="geometricPrecision"/>
<g shape-rendering="geometricPrecision">
<polygon points="368.6,143 377.4,143 373.5,161 371.3,161" fill="#000" stroke="none" stroke-width="0"/>
<polygon points="371,140 374.8,140 372.9,153" fill="#fff" stroke="none" stroke-width="0"/>
</g>
<polyline points="348.5,129.5 350.5,138.5 352.5,129.5 354.5,138.5 356.5,129.5" fill="none" stroke="#000" stroke-width="1" stroke-linecap="round" stroke-linejoin="round" shape-rendering="geometricPrecision"/>
<polyline points="364.5,138.5 364.5,129.5 360.5,135.5 365.5,135.5" fill="none" stroke="#000" stroke-width="1" stroke-linecap="round" stroke-linejoin="round" shape-rendering="geometricPrecision"/>
<polyline points="367.5,134.5 370.5,134.5" fill="none" stroke="#000" stroke-width="1" stroke-linecap="round" stroke-linejoin="round" shape-rendering="geometricPrecision"/>
<polyline points="373.5,129.5 375.5,138.5 377.5,129.5 379.5,138.5 381.5,129.5" fill="none" stroke="#000" stroke-width="1" stroke-linecap="round" stroke-linejoin="round" shape-rendering="geometricPrecision"/>
<polyline points="385.5,131.5 388.5,129.5 388.5,138.5" fill="none" stroke="#000" stroke-width="1" stroke-linecap="round" stroke-linejoin="round" shape-rendering="geometricPrecision"/>
<polyline points="392.5,131.5 396.5,129.5 396.5,138.5" fill="none" stroke="#000" stroke-width="1" stroke-linecap="round" stroke-linejoin="round" shape-rendering="geometricPrecision"/>
<path fill="#000" d="M349 161h48v19h-48z"/>
<path fill="#fff" d="M350 162h1v17h-1zM356 162h1v17h-1zM361 162h1v17h-1zM367 162h1v17h-1zM373 162h1v17h-1zM378 162h1v17h-1zM384 162h1v17h-1zM390 162h1v17h-1zM395 162h1v17h-1zM350 167h46v1h-46zM350 173h46v1h-46zM350 174h46v5h-46z"/>
<path fill="#000" d="M351 174h4v4h-4z"/>
<path fill="#fff" d="M352 175h2v2h-2z"/>
<path fill="#000" d="M357 174h4v4h-4z"/>
<path fill="#fff" d="M358 175h2v2h-2z"/>
<path fill="#000" d="M362 174h4v4h-4z"/>
<path fill="#fff" d="M363 175h2v2h-2z"/>
<path fill="#000" d="M368 174h4v4h-4z"/>
<path fill="#fff" d="M369 175h2v2h-2z"/>
<path fill="#000" d="M374 174h4v4h-4z"/>
<path fill="#fff" d="M375 175h2v2h-2z"/>
<path fill="#000" d="M379 174h4v4h-4z"/>
<path fill="#fff" d="M380 175h2v2h-2z"/>
<path fill="#000" d="M385 174h4v4h-4z"/>
<path fill="#fff" d="M386 175h2v2h-2z"/>
<path fill="#000" d="M391 174h4v4h-4z"/>
<path fill="#fff" d="M392 175h2v2h-2z"/>
<path fill="#000" d="M261 193h41v88h-41z"/>
<path fill="#fff" d="M276 193h12v3h-12z"/>
<rect x="274" y="198" width="15" height="78" rx="1.5" fill="#fff" shape-rendering="geometricPrecision"/>
<path fill="#fff" d="M263 195h5v1h-5zM295 195h5v1h-5z"/>
<path fill="#000" d="M306 193h41v88h-41z"/>
<path fill="#fff" d="M321 193h12v3h-12z"/>
<rect x="320" y="198" width="14" height="78" rx="1.5" fill="#fff" shape-rendering="geometricPrecision"/>
<path fill="#fff" d="M308 195h5v1h-5zM341 195h5v1h-5zM308 196h1v4h-1zM308 202.5h1v4h-1zM308 209h1v4h-1zM308 215.5h1v4h-1zM308 222h1v4h-1zM308 228.5h1v4h-1zM308 235h1v4h-1zM308 241.5h1v4h-1zM308 248h1v4h-1zM308 254.5h1v4h-1zM308 261h1v4h-1zM308 267.5h1v4h-1zM308 274h1v4h-1z"/>
<polyline points="276.5,271.5 286.5,271.5 286.5,268.5 285.5,267.5 282.5,267.5 281.5,268.5 281.5,271.5" fill="none" stroke="#000" stroke-width="1" stroke-linecap="round" stroke-linejoin="round" shape-rendering="geometricPrecision"/>
<polyline points="281.5,268.5 280.5,267.5 277.5,267.5 276.5,268.5 276.5,271.5" fill="none" stroke="#000" stroke-width="1" stroke-linecap="round" stroke-linejoin="round" shape-rendering="geometricPrecision"/>
<polyline points="276.5,262.5 286.5,262.5" fill="none" stroke="#000" stroke-width="1" stroke-linecap="round" stroke-linejoin="round" shape-rendering="geometricPrecision"/>
<polyline points="276.5,257.5 276.5,253.5 277.5,251.5 284.5,251.5 286.5,253.5 286.5,257.5 284.5,259.5 277.5,259.5 276.5,257.5" fill="none" stroke="#000" stroke-width="1" stroke-linecap="round" stroke-linejoin="round" shape-rendering="geometricPrecision"/>
<polyline points="277.5,243.5 276.5,244.5 276.5,247.5 277.5,248.5 280.5,248.5 281.5,247.5 281.5,244.5 282.5,243.5 284.5,243.5 286.5,244.5 286.5,247.5 284.5,248.5" fill="none" stroke="#000" stroke-width="1" stroke-linecap="round" stroke-linejoin="round" shape-rendering="geometricPrecision"/>
<polyline points="286.5,240.5 276.5,237.5" fill="none" stroke="#000" stroke-width="1" stroke-linecap="round" stroke-linejoin="round" shape-rendering="geometricPrecision"/>
<polyline points="276.5,230.5 276.5,234.5 286.5,234.5 286.5,230.5" fill="none" stroke="#000" stroke-width="1" stroke-linecap="round" stroke-linejoin="round" shape-rendering="geometricPrecision"/>
<polyline points="281.5,234.5 281.5,231.5" fill="none" stroke="#000" stroke-width="1" stroke-linecap="round" stroke-linejoin="round" shape-rendering="geometricPrecision"/>
<polyline points="276.5,227.5 286.5,224.5 276.5,221.5" fill="none" stroke="#000" stroke-width="1" stroke-linecap="round" stroke-linejoin="round" shape-rendering="geometricPrecision"/>
<polyline points="276.5,213.5 276.5,218.5 286.5,218.5 286.5,213.5" fill="none" stroke="#000" stroke-width="1" stroke-linecap="round" stroke-linejoin="round" shape-rendering="geometricPrecision"/>
<polyline points="281.5,218.5 281.5,214.5" fill="none" stroke="#000" stroke-width="1" stroke-linecap="round" stroke-linejoin="round" shape-rendering="geometricPrecision"/>
<polyline points="286.5,208.5 276.5,208.5 286.5,203.5 276.5,203.5" fill="none" stroke="#000" stroke-width="1" stroke-linecap="round" stroke-linejoin="round" shape-rendering="geometricPrecision"/>
<polyline points="321.5,267.5 331.5,267.5 331.5,264.5 330.5,263.5 327.5,263.5 326.5,264.5 326.5,267.5" fill="none" stroke="#000" stroke-width="1" stroke-linecap="round" stroke-linejoin="round" shape-rendering="geometricPrecision"/>
<polyline points="326.5,264.5 325.5,263.5 322.5,263.5 321.5,264.5 321.5,267.5" fill="none" stroke="#000" stroke-width="1" stroke-linecap="round" stroke-linejoin="round" shape-rendering="geometricPrecision"/>
<polyline points="321.5,258.5 331.5,258.5" fill="none" stroke="#000" stroke-width="1" stroke-linecap="round" stroke-linejoin="round" shape-rendering="geometricPrecision"/>
<polyline points="321.5,254.5 321.5,250.5 322.5,248.5 329.5,248.5 331.5,250.5 331.5,254.5 329.5,256.5 322.5,256.5 321.5,254.5" fill="none" stroke="#000" stroke-width="1" stroke-linecap="round" stroke-linejoin="round" shape-rendering="geometricPrecision"/>
<polyline points="322.5,240.5 321.5,241.5 321.5,244.5 322.5,245.5 325.5,245.5 326.5,244.5 326.5,241.5 327.5,240.5 329.5,240.5 331.5,241.5 331.5,244.5 329.5,245.5" fill="none" stroke="#000" stroke-width="1" stroke-linecap="round" stroke-linejoin="round" shape-rendering="geometricPrecision"/>
<polyline points="331.5,237.5 321.5,234.5" fill="none" stroke="#000" stroke-width="1" stroke-linecap="round" stroke-linejoin="round" shape-rendering="geometricPrecision"/>
<polyline points="321.5,230.5 321.5,227.5 322.5,225.5 329.5,225.5 331.5,227.5 331.5,230.5 329.5,232.5 322.5,232.5 321.5,230.5" fill="none" stroke="#000" stroke-width="1" stroke-linecap="round" stroke-linejoin="round" shape-rendering="geometricPrecision"/>
<polyline points="321.5,221.5 331.5,221.5 331.5,218.5 329.5,216.5 323.5,216.5 321.5,218.5 321.5,221.5" fill="none" stroke="#000" stroke-width="1" stroke-linecap="round" stroke-linejoin="round" shape-rendering="geometricPrecision"/>
<polyline points="321.5,211.5 331.5,211.5 331.5,208.5 329.5,206.5 323.5,206.5 321.5,208.5 321.5,211.5" fill="none" stroke="#000" stroke-width="1" stroke-linecap="round" stroke-linejoin="round" shape-rendering="geometricPrecision"/>
<g shape-rendering="geometricPrecision">
<polygon points="353,200 396,200 396,201.5 400,202 400,245 398,246 398,249 355,249 352.5,247 351,245.5 351,204" fill="#000" stroke="none" stroke-width="0"/>
</g>
<rect x="356" y="205" width="3.8" height="3.1" rx="1.2" fill="#fff" shape-rendering="geometricPrecision"/>
<g shape-rendering="geometricPrecision">
<polygon points="354,334 398,334 398,335.5 402,336 402,379 400,380 400,383 356,383 353.5,381 352,379.5 352,338" fill="#000" stroke="none" stroke-width="0"/>
</g>
<rect x="358" y="340" width="3.8" height="3.1" rx="1.2" fill="#fff" shape-rendering="geometricPrecision"/>
<g shape-rendering="geometricPrecision">
<polygon points="136,382 179,382 179,383.5 183,384 183,428 181,429 181,432 138,432 135.5,430 134,428.5 134,386" fill="#000" stroke="none" stroke-width="0"/>
</g>
<rect x="139" y="388" width="3.8" height="3.1" rx="1.2" fill="#fff" shape-rendering="geometricPrecision"/>
<g shape-rendering="geometricPrecision">
<polygon points="196,427.5 199,427.5 211,435.5 206,442 204,442 204,438.5" fill="#000" stroke="none" stroke-width="0"/>
</g>
<rect x="204" y="435" width="25.2" height="18.5" rx="2.8" fill="#000" shape-rendering="geometricPrecision"/>
<rect x="206" y="437.3" width="21.1" height="14.2" rx="1.3" fill="#fff" shape-rendering="geometricPrecision"/>
<g shape-rendering="geometricPrecision">
<polygon points="201.8,432.8 208.8,437.3 206,440.5" fill="#fff" stroke="none" stroke-width="0"/>
</g>
<polyline points="207.5,440.5 209.5,448.5 211.5,440.5 213.5,448.5 215.5,440.5" fill="none" stroke="#000" stroke-width="1" stroke-linecap="round" stroke-linejoin="round" shape-rendering="geometricPrecision"/>
<polyline points="219.5,440.5 220.5,440.5 223.5,440.5 224.5,440.5 224.5,443.5 223.5,444.5 221.5,444.5" fill="none" stroke="#000" stroke-width="1" stroke-linecap="round" stroke-linejoin="round" shape-rendering="geometricPrecision"/>
<polyline points="223.5,444.5 224.5,444.5 224.5,447.5 223.5,448.5 220.5,448.5 219.5,447.5" fill="none" stroke="#000" stroke-width="1" stroke-linecap="round" stroke-linejoin="round" shape-rendering="geometricPrecision"/>
<path fill="#000" d="M191 416h7v13h-7z"/>
<path fill="#fff" d="M196 417h1v11h-1zM192 417h5v1h-5zM192 422h5v1h-5z"/>
<rect x="66" y="383" width="26" height="19" rx="2.8" fill="#000" shape-rendering="geometricPrecision"/>
<rect x="68.4" y="385.5" width="21.2" height="14.3" rx="1.3" fill="#fff" shape-rendering="geometricPrecision"/>
<g shape-rendering="geometricPrecision">
<polygon points="52,392 57,392 68.5,388 68.5,397.5 57,394 52,394" fill="#000" stroke="none" stroke-width="0"/>
<polygon points="59,393 69.5,389.8 69.5,395.7" fill="#fff" stroke="none" stroke-width="0"/>
</g>
<polyline points="70.5,388.5 72.5,397.5 74.5,388.5 75.5,397.5 77.5,388.5" fill="none" stroke="#000" stroke-width="1" stroke-linecap="round" stroke-linejoin="round" shape-rendering="geometricPrecision"/>
<polyline points="80.5,389.5 81.5,388.5 84.5,388.5 85.5,389.5 85.5,391.5 80.5,397.5 85.5,397.5" fill="none" stroke="#000" stroke-width="1" stroke-linecap="round" stroke-linejoin="round" shape-rendering="geometricPrecision"/>
<path fill="#000" d="M45 386h7v14h-7z"/>
<path fill="#fff" d="M46 387h1v12h-1zM46 387h5v1h-5zM46 392h5v1h-5zM46 398h5v1h-5z"/>
<rect x="56" y="410" width="36" height="18" rx="2.8" fill="#000" shape-rendering="geometricPrecision"/>
<rect x="58.3" y="412.5" width="31.3" height="13" rx="1.3" fill="#fff" shape-rendering="geometricPrecision"/>
<g shape-rendering="geometricPrecision">
<polygon points="42,417 47,417 58.3,413.5 58.3,423 47,419 42,419" fill="#000" stroke="none" stroke-width="0"/>
<polygon points="49,418 59.3,415.3 59.3,421.2" fill="#fff" stroke="none" stroke-width="0"/>
</g>
<polyline points="61.5,414.5 63.5,423.5 65.5,414.5 67.5,423.5 69.5,414.5" fill="none" stroke="#000" stroke-width="1" stroke-linecap="round" stroke-linejoin="round" shape-rendering="geometricPrecision"/>
<polyline points="73.5,416.5 76.5,414.5 76.5,423.5" fill="none" stroke="#000" stroke-width="1" stroke-linecap="round" stroke-linejoin="round" shape-rendering="geometricPrecision"/>
<polyline points="84.5,414.5 79.5,414.5 79.5,418.5 83.5,418.5 84.5,419.5 84.5,421.5 83.5,423.5 80.5,423.5 79.5,421.5" fill="none" stroke="#000" stroke-width="1" stroke-linecap="round" stroke-linejoin="round" shape-rendering="geometricPrecision"/>
<path fill="#000" d="M35 411h7v13h-7z"/>
<path fill="#fff" d="M40 412h1v11h-1zM36 417h5v1h-5zM36 422h5v1h-5z"/>
<path fill="#000" d="M122 452h39v19h-39z"/>
<path fill="#fff" d="M123 453h37v17h-37z"/>
<path fill="#000" d="M123 453h4v4h-4z"/>
<path fill="#fff" d="M124 454h2v2h-2z"/>
<path fill="#000" d="M128 456h6v11h-6z"/>
<path fill="#fff" d="M129 457h4v9h-4z"/>
<path fill="#000" d="M135 456h6v11h-6zM143 456h6v11h-6zM150 456h6v11h-6z"/>
<rect x="124" y="489" width="34" height="19" rx="2.8" fill="#000" shape-rendering="geometricPrecision"/>
<rect x="126" y="491.5" width="30" height="14.3" rx="1.3" fill="#fff" shape-rendering="geometricPrecision"/>
<g shape-rendering="geometricPrecision">
<polygon points="137.5,490.5 145.5,490.5 143.1,472.5 140.9,472.5" fill="#000" stroke="none" stroke-width="0"/>
<polygon points="140,492 144,492 142,481" fill="#fff" stroke="none" stroke-width="0"/>
</g>
<polyline points="133.5,494.5 132.5,493.5 129.5,493.5 128.5,494.5 128.5,496.5 129.5,497.5 132.5,497.5 133.5,498.5 133.5,500.5 132.5,502.5 129.5,502.5 128.5,500.5" fill="none" stroke="#000" stroke-width="1" stroke-linecap="round" stroke-linejoin="round" shape-rendering="geometricPrecision"/>
<polyline points="149.5,495.5 152.5,493.5 152.5,502.5" fill="none" stroke="#000" stroke-width="1" stroke-linecap="round" stroke-linejoin="round" shape-rendering="geometricPrecision"/>
<polyline points="137.5,493.5 139.2,501.5 140.5,496" fill="none" stroke="#000" stroke-width="1" shape-rendering="geometricPrecision"/>
<polyline points="143.5,496 144.5,501.5 145.5,493.5" fill="none" stroke="#000" stroke-width="1" shape-rendering="geometricPrecision"/>
<polygon points="258,381 319,381 319,436.3 314.8,441 258,441" fill="#000" stroke="none" stroke-width="0"/>
<path fill="#fff" d="M266 383h45v5h-45zM260 389h5v44h-5zM312 389h5v43h-5zM266 435h41v4h-41z"/>
<path fill="#000" d="M267 383h2v5h-2zM289 383h1v5h-1zM297 383h1v5h-1zM306 383h2v5h-2zM267 435h2v4h-2zM289 435h1v4h-1zM297 435h1v4h-1zM260 406h5v1h-5zM260 426h5v1h-5zM312 404h5v1h-5zM312 413h5v1h-5z"/>
<path fill="#fff" d="M266 388h1v46h-1zM266 433h42v1h-42z"/>
<polyline points="308,433.5 311.5,430.5" fill="none" stroke="#fff" stroke-width="1" shape-rendering="geometricPrecision"/>
<path fill="#fff" d="M311 433h5v5h-5z"/>
<polygon points="313.8,434.6 315.4,436.2 313.8,437.8 312.6,436.2" fill="#000" stroke="none" stroke-width="0"/>
<rect x="274" y="404" width="29" height="14" rx="2" fill="#fff" shape-rendering="geometricPrecision"/>
<polyline points="281.5,407.5 280.5,405.5 277.5,405.5 276.5,406.5 276.5,413.5 277.5,414.5 280.5,414.5 281.5,412.5" fill="none" stroke="#000" stroke-width="1" stroke-linecap="round" stroke-linejoin="round" shape-rendering="geometricPrecision"/>
<polyline points="286.5,414.5 286.5,405.5 290.5,405.5 291.5,406.5 291.5,409.5 290.5,410.5 286.5,410.5" fill="none" stroke="#000" stroke-width="1" stroke-linecap="round" stroke-linejoin="round" shape-rendering="geometricPrecision"/>
<polyline points="296.5,405.5 296.5,413.5 297.5,414.5 300.5,414.5 301.5,413.5 301.5,405.5" fill="none" stroke="#000" stroke-width="1" stroke-linecap="round" stroke-linejoin="round" shape-rendering="geometricPrecision"/>
<path fill="#000" d="M241 471h127v42h-127z"/>
<path fill="#fff" d="M246 480h111v23h-111z"/>
<g shape-rendering="geometricPrecision">
<path fill="#fff" d="M243.9 473h3.9v5h-3.9zM243.9 506h3.9v5.4h-3.9zM250.18 473h3.9v5h-3.9zM250.18 506h3.9v5.4h-3.9zM256.46 473h3.9v5h-3.9zM256.46 506h3.9v5.4h-3.9zM262.74 473h3.9v5h-3.9zM262.74 506h3.9v5.4h-3.9zM269.02 473h3.9v5h-3.9zM269.02 506h3.9v5.4h-3.9zM275.3 473h3.9v5h-3.9zM275.3 506h3.9v5.4h-3.9zM281.58 473h3.9v5h-3.9zM281.58 506h3.9v5.4h-3.9zM287.86 473h3.9v5h-3.9zM287.86 506h3.9v5.4h-3.9zM294.14 473h3.9v5h-3.9zM294.14 506h3.9v5.4h-3.9zM300.42 473h3.9v5h-3.9zM300.42 506h3.9v5.4h-3.9zM306.7 473h3.9v5h-3.9zM306.7 506h3.9v5.4h-3.9zM312.98 473h3.9v5h-3.9zM312.98 506h3.9v5.4h-3.9zM319.26 473h3.9v5h-3.9zM319.26 506h3.9v5.4h-3.9zM325.54 473h3.9v5h-3.9zM325.54 506h3.9v5.4h-3.9zM331.82 473h3.9v5h-3.9zM331.82 506h3.9v5.4h-3.9zM338.1 473h3.9v5h-3.9zM338.1 506h3.9v5.4h-3.9zM344.38 473h3.9v5h-3.9zM344.38 506h3.9v5.4h-3.9zM350.66 473h3.9v5h-3.9zM350.66 506h3.9v5.4h-3.9zM356.94 473h3.9v5h-3.9zM356.94 506h3.9v5.4h-3.9zM363.22 473h3.9v5h-3.9zM363.22 506h3.9v5.4h-3.9z"/>
</g>
<path fill="#000" d="M298 480h6v23h-6z"/>
<rect x="288" y="482" width="33" height="19" rx="3" fill="#000" shape-rendering="geometricPrecision"/>
<rect x="289.7" y="484.7" width="29.4" height="14.4" rx="2" fill="#fff" shape-rendering="geometricPrecision"/>
<polyline points="293.5,495.5 293.5,486.5 298.5,495.5 298.5,486.5" fill="none" stroke="#000" stroke-width="1" stroke-linecap="round" stroke-linejoin="round" shape-rendering="geometricPrecision"/>
<polyline points="302.5,495.5 302.5,486.5 305.5,486.5 307.5,487.5 307.5,490.5 305.5,491.5 302.5,491.5" fill="none" stroke="#000" stroke-width="1" stroke-linecap="round" stroke-linejoin="round" shape-rendering="geometricPrecision"/>
<polyline points="311.5,486.5 311.5,494.5 312.5,495.5 315.5,495.5 317.5,494.5 317.5,486.5" fill="none" stroke="#000" stroke-width="1" stroke-linecap="round" stroke-linejoin="round" shape-rendering="geometricPrecision"/>
<ellipse cx="368" cy="492" rx="5" ry="6" fill="#fff"/>
<path fill="#fff" d="M368 480h6v24h-6z"/>
<g shape-rendering="geometricPrecision">
<polygon points="401,464.5 401,462.5 407.7,450.6 410.2,451.6 412.7,456.1 403,465" fill="#000" stroke="none" stroke-width="0"/>
</g>
<rect x="408.2" y="438.1" width="32.8" height="18.5" rx="2.8" fill="#000" shape-rendering="geometricPrecision"/>
<rect x="410.2" y="440.5" width="28.3" height="13.9" rx="1.3" fill="#fff" shape-rendering="geometricPrecision"/>
<polyline points="404.3,461.7 410.8,454.8" fill="none" stroke="#fff" stroke-width="0.9" shape-rendering="geometricPrecision"/>
<polyline points="413.5,443.5 415.5,451.5 417.5,443.5 419.5,451.5 421.5,443.5" fill="none" stroke="#000" stroke-width="1" stroke-linecap="round" stroke-linejoin="round" shape-rendering="geometricPrecision"/>
<polyline points="425.5,444.5 428.5,443.5 428.5,451.5" fill="none" stroke="#000" stroke-width="1" stroke-linecap="round" stroke-linejoin="round" shape-rendering="geometricPrecision"/>
<polyline points="431.5,444.5 432.5,443.5 435.5,443.5 436.5,444.5 436.5,446.5 431.5,451.5 436.5,451.5" fill="none" stroke="#000" stroke-width="1" stroke-linecap="round" stroke-linejoin="round" shape-rendering="geometricPrecision"/>
<path fill="#000" d="M382 457h19v13h-19z"/>
<g shape-rendering="geometricPrecision">
<path fill="#fff" d="M387.3 458h1.5v11h-1.5zM393.3 458h1.2v11h-1.2zM399.2 458h0.9v11h-0.9zM383 463h17v1.1h-17zM394.8 458.4h3.8v3.8h-3.8z"/>
<path fill="#333" d="M395.8 459.4h1.8v1.8h-1.8z"/>
</g>
<g shape-rendering="geometricPrecision">
<polygon points="401.5,504 401.5,502 408.4,489.7 410.9,490.7 413.4,495.2 403.5,504.5" fill="#000" stroke="none" stroke-width="0"/>
</g>
<rect x="408.9" y="477.2" width="33" height="18.5" rx="2.8" fill="#000" shape-rendering="geometricPrecision"/>
<rect x="411" y="479.5" width="28.2" height="13.9" rx="1.3" fill="#fff" shape-rendering="geometricPrecision"/>
<polyline points="404.8,501.2 411.5,493.9" fill="none" stroke="#fff" stroke-width="0.9" shape-rendering="geometricPrecision"/>
<polyline points="414.5,482.5 416.5,490.5 418.5,482.5 420.5,490.5 422.5,482.5" fill="none" stroke="#000" stroke-width="1" stroke-linecap="round" stroke-linejoin="round" shape-rendering="geometricPrecision"/>
<polyline points="426.5,483.5 429.5,482.5 429.5,490.5" fill="none" stroke="#000" stroke-width="1" stroke-linecap="round" stroke-linejoin="round" shape-rendering="geometricPrecision"/>
<polyline points="432.5,482.5 433.5,482.5 436.5,482.5 437.5,482.5 437.5,485.5 436.5,486.5 434.5,486.5" fill="none" stroke="#000" stroke-width="1" stroke-linecap="round" stroke-linejoin="round" shape-rendering="geometricPrecision"/>
<polyline points="436.5,486.5 437.5,486.5 437.5,489.5 436.5,490.5 433.5,490.5 432.5,489.5" fill="none" stroke="#000" stroke-width="1" stroke-linecap="round" stroke-linejoin="round" shape-rendering="geometricPrecision"/>
<path fill="#000" d="M383 495h19v14h-19z"/>
<path fill="#fff" d="M384 496h17v12h-17z"/>
<g shape-rendering="geometricPrecision">
<path fill="#000" d="M384 497.3h4.6v3.5h-4.6zM384 503h4.6v3.6h-4.6zM390.2 497.3h3.4v3.5h-3.4zM390.2 503h3.4v3.6h-3.4zM395.3 497.3h5.1v3.5h-5.1zM395.3 503h5.1v3.6h-5.1z"/>
<path fill="#fff" d="M396.6 498.2h2.6v1.7h-2.6z"/>
</g>
<polyline points="379.5,446.5 380.5,445.5 383.5,445.5 384.5,446.5 384.5,448.5 383.5,449.5 381.5,449.5" fill="none" stroke="#000" stroke-width="1" stroke-linecap="round" stroke-linejoin="round" shape-rendering="geometricPrecision"/>
<polyline points="383.5,449.5 384.5,450.5 384.5,452.5 383.5,453.5 380.5,453.5 379.5,452.5" fill="none" stroke="#000" stroke-width="1" stroke-linecap="round" stroke-linejoin="round" shape-rendering="geometricPrecision"/>
<polyline points="382.5,479.5 382.5,472.5 378.5,477.5 383.5,477.5" fill="none" stroke="#000" stroke-width="1" stroke-linecap="round" stroke-linejoin="round" shape-rendering="geometricPrecision"/>
<polyline points="402.5,473.5 401.5,472.5 398.5,472.5 397.5,473.5 397.5,478.5 398.5,479.5 401.5,479.5 402.5,478.5 402.5,476.5 401.5,475.5 397.5,475.5" fill="none" stroke="#000" stroke-width="1" stroke-linecap="round" stroke-linejoin="round" shape-rendering="geometricPrecision"/>
<polyline points="379.5,486.5 380.5,485.5 383.5,485.5 384.5,486.5 384.5,488.5 383.5,489.5 381.5,489.5" fill="none" stroke="#000" stroke-width="1" stroke-linecap="round" stroke-linejoin="round" shape-rendering="geometricPrecision"/>
<polyline points="383.5,489.5 384.5,489.5 384.5,491.5 383.5,492.5 380.5,492.5 379.5,491.5" fill="none" stroke="#000" stroke-width="1" stroke-linecap="round" stroke-linejoin="round" shape-rendering="geometricPrecision"/>
<polyline points="383.5,517.5 383.5,510.5 379.5,515.5 384.5,515.5" fill="none" stroke="#000" stroke-width="1" stroke-linecap="round" stroke-linejoin="round" shape-rendering="geometricPrecision"/>
<polyline points="403.5,511.5 402.5,510.5 399.5,510.5 398.5,511.5 398.5,516.5 399.5,517.5 402.5,517.5 403.5,516.5 403.5,514.5 402.5,513.5 398.5,513.5" fill="none" stroke="#000" stroke-width="1" stroke-linecap="round" stroke-linejoin="round" shape-rendering="geometricPrecision"/>
<path fill="#000" d="M550 386h126v43h-126z"/>
<rect x="673.7" y="402.3" width="6" height="11.4" rx="2" fill="#fff" shape-rendering="geometricPrecision"/>
<path fill="#fff" d="M599 400h28v14h-28z"/>
<polyline points="601.5,402.5 601.5,411.5" fill="none" stroke="#000" stroke-width="1" stroke-linecap="round" stroke-linejoin="round" shape-rendering="geometricPrecision"/>
<polyline points="607.5,402.5 601.5,408.5" fill="none" stroke="#000" stroke-width="1" stroke-linecap="round" stroke-linejoin="round" shape-rendering="geometricPrecision"/>
<polyline points="603.5,406.5 607.5,411.5" fill="none" stroke="#000" stroke-width="1" stroke-linecap="round" stroke-linejoin="round" shape-rendering="geometricPrecision"/>
<polyline points="611.5,402.5 611.5,411.5 615.5,411.5 616.5,410.5 616.5,407.5 615.5,407.5 611.5,407.5" fill="none" stroke="#000" stroke-width="1" stroke-linecap="round" stroke-linejoin="round" shape-rendering="geometricPrecision"/>
<polyline points="615.5,407.5 616.5,406.5 616.5,403.5 615.5,402.5 611.5,402.5" fill="none" stroke="#000" stroke-width="1" stroke-linecap="round" stroke-linejoin="round" shape-rendering="geometricPrecision"/>
<polyline points="620.5,402.5 620.5,411.5 623.5,411.5 625.5,409.5 625.5,404.5 623.5,402.5 620.5,402.5" fill="none" stroke="#000" stroke-width="1" stroke-linecap="round" stroke-linejoin="round" shape-rendering="geometricPrecision"/>
<g shape-rendering="geometricPrecision">
<polygon points="768.3,378.5 771.3,378.5 771.3,382.5 764.5,391 759.5,386.5" fill="#000" stroke="none" stroke-width="0"/>
</g>
<rect x="732.1" y="385.9" width="33" height="18.9" rx="2.8" fill="#000" shape-rendering="geometricPrecision"/>
<rect x="734.1" y="388.9" width="28.1" height="13.2" rx="1.3" fill="#fff" shape-rendering="geometricPrecision"/>
<polyline points="767,385.2 762.6,389.6" fill="none" stroke="#fff" stroke-width="0.9" shape-rendering="geometricPrecision"/>
<polyline points="741.5,391.5 739.5,390.5 736.5,390.5 735.5,391.5 735.5,393.5 736.5,395.5 739.5,395.5 741.5,396.5 741.5,398.5 739.5,399.5 736.5,399.5 735.5,398.5" fill="none" stroke="#000" stroke-width="1" stroke-linecap="round" stroke-linejoin="round" shape-rendering="geometricPrecision"/>
<polyline points="744.5,390.5 746.5,399.5 748.5,390.5 750.5,399.5 752.5,390.5" fill="none" stroke="#000" stroke-width="1" stroke-linecap="round" stroke-linejoin="round" shape-rendering="geometricPrecision"/>
<polyline points="755.5,391.5 756.5,390.5 759.5,390.5 760.5,391.5 760.5,393.5 759.5,395.5 757.5,395.5" fill="none" stroke="#000" stroke-width="1" stroke-linecap="round" stroke-linejoin="round" shape-rendering="geometricPrecision"/>
<polyline points="759.5,395.5 760.5,396.5 760.5,398.5 759.5,399.5 756.5,399.5 755.5,398.5" fill="none" stroke="#000" stroke-width="1" stroke-linecap="round" stroke-linejoin="round" shape-rendering="geometricPrecision"/>
<path fill="#000" d="M759 360h24v19h-24z"/>
<path fill="#fff" d="M760 361h22v17h-22z"/>
<path fill="#000" d="M764 364h6v11h-6zM772 364h6v11h-6z"/>
<path fill="#fff" d="M773 365h4v9h-4z"/>
<path fill="#000" d="M778 373h5v5h-5z"/>
<path fill="#fff" d="M779 374h3v3h-3z"/>
<path fill="#000" d="M757 410h24v37h-24zM781 406h4v46h-4zM784 403h4v51h-4zM754 416h3v25h-3z"/>
<path fill="#fff" d="M755 417h2v23h-2z"/>
<path fill="#000" d="M750 419h5v8h-5z"/>
<path fill="#fff" d="M751 420h3v6h-3z"/>
<path fill="#000" d="M750 430h5v9h-5z"/>
<path fill="#fff" d="M751 431h3v7h-3z"/>
<path fill="#000" d="M755 418h1v1h-1zM755 420h1v1h-1zM755 422h1v1h-1zM755 424h1v1h-1zM755 433h1v1h-1zM755 435h1v1h-1zM755 437h1v1h-1zM755 439h1v1h-1zM618 461h112v25h-112z"/>
<path fill="#fff" d="M619 462h110v23h-110z"/>
<path fill="#000" d="M619 469h110v1h-110zM620 465h7v3h-7z"/>
<path fill="#fff" d="M621 466h5v1h-5z"/>
<path fill="#000" d="M621 468h5v1h-5zM620 472h7v2h-7zM630 465h7v3h-7z"/>
<path fill="#fff" d="M631 466h5v1h-5z"/>
<path fill="#000" d="M631 468h5v1h-5zM630 472h7v2h-7zM639 465h7v3h-7z"/>
<path fill="#fff" d="M640 466h5v1h-5z"/>
<path fill="#000" d="M640 468h5v1h-5zM639 472h7v2h-7zM648 465h7v3h-7z"/>
<path fill="#fff" d="M649 466h5v1h-5z"/>
<path fill="#000" d="M649 468h5v1h-5zM648 472h7v2h-7zM657 465h7v3h-7z"/>
<path fill="#fff" d="M658 466h5v1h-5z"/>
<path fill="#000" d="M658 468h5v1h-5zM657 472h7v2h-7zM666 465h7v3h-7z"/>
<path fill="#fff" d="M667 466h5v1h-5z"/>
<path fill="#000" d="M667 468h5v1h-5zM666 472h7v2h-7zM676 465h7v3h-7z"/>
<path fill="#fff" d="M677 466h5v1h-5z"/>
<path fill="#000" d="M677 468h5v1h-5zM676 472h7v2h-7zM685 465h7v3h-7z"/>
<path fill="#fff" d="M686 466h5v1h-5z"/>
<path fill="#000" d="M686 468h5v1h-5zM685 472h7v2h-7zM694 465h7v3h-7z"/>
<path fill="#fff" d="M695 466h5v1h-5z"/>
<path fill="#000" d="M695 468h5v1h-5zM694 472h7v2h-7zM703 465h7v3h-7z"/>
<path fill="#fff" d="M704 466h5v1h-5z"/>
<path fill="#000" d="M704 468h5v1h-5zM703 472h7v2h-7zM712 465h7v3h-7z"/>
<path fill="#fff" d="M713 466h5v1h-5z"/>
<path fill="#000" d="M713 468h5v1h-5zM712 472h7v2h-7zM722 465h7v3h-7z"/>
<path fill="#fff" d="M723 466h5v1h-5z"/>
<path fill="#000" d="M723 468h5v1h-5zM722 472h7v2h-7zM624 475h7v8h-7z"/>
<path fill="#fff" d="M625 476h5v6h-5z"/>
<path fill="#000" d="M633 475h7v8h-7z"/>
<path fill="#fff" d="M634 476h5v6h-5z"/>
<path fill="#000" d="M643 475h7v8h-7z"/>
<path fill="#fff" d="M644 476h5v6h-5z"/>
<path fill="#000" d="M652 475h7v8h-7z"/>
<path fill="#fff" d="M653 476h5v6h-5z"/>
<path fill="#000" d="M661 475h7v8h-7z"/>
<path fill="#fff" d="M662 476h5v6h-5z"/>
<path fill="#000" d="M671 475h7v8h-7z"/>
<path fill="#fff" d="M672 476h5v6h-5z"/>
<path fill="#000" d="M680 475h7v8h-7z"/>
<path fill="#fff" d="M681 476h5v6h-5z"/>
<path fill="#000" d="M689 475h7v8h-7z"/>
<path fill="#fff" d="M690 476h5v6h-5z"/>
<path fill="#000" d="M699 475h7v8h-7z"/>
<path fill="#fff" d="M700 476h5v6h-5z"/>
<path fill="#000" d="M708 475h7v8h-7z"/>
<path fill="#fff" d="M709 476h5v6h-5z"/>
<path fill="#000" d="M717 475h7v8h-7z"/>
<path fill="#fff" d="M718 476h5v6h-5z"/>
<path fill="#000" d="M619 476h2v1h-2zM619 479h2v1h-2zM619 482h2v1h-2zM621 476h1v7h-1zM727 476h2v1h-2zM727 479h2v1h-2zM727 482h2v1h-2zM727 476h1v7h-1z"/>
</svg>
</body></html>
